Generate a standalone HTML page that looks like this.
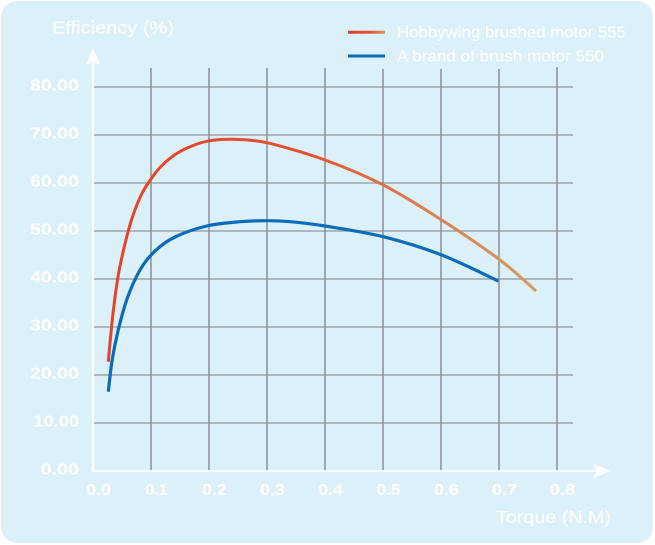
<!DOCTYPE html>
<html><head><meta charset="utf-8"><style>
html,body{margin:0;padding:0;background:#fff;}
svg{display:block;}
</style></head><body>
<svg width="655" height="545" viewBox="0 0 655 545" xmlns="http://www.w3.org/2000/svg">
<defs>
<linearGradient id="rg" gradientUnits="userSpaceOnUse" x1="108" y1="0" x2="536" y2="0">
<stop offset="0" stop-color="#e3432a"/>
<stop offset="0.45" stop-color="#e3502e"/>
<stop offset="0.7" stop-color="#dd7b4c"/>
<stop offset="1" stop-color="#d49c62"/>
</linearGradient>
<linearGradient id="lg" gradientUnits="userSpaceOnUse" x1="348" y1="0" x2="385" y2="0">
<stop offset="0" stop-color="#e0392a"/>
<stop offset="0.6" stop-color="#e2552f"/>
<stop offset="1" stop-color="#d9945e"/>
</linearGradient>
</defs>
<rect x="1" y="1" width="652" height="542" rx="16" ry="16" fill="#dbf0f9"/>

<!-- horizontal grid -->
<g stroke="#9ea6ab" stroke-width="1.6">
<line x1="93" y1="87" x2="573" y2="87"/>
<line x1="93" y1="135" x2="573" y2="135"/>
<line x1="93" y1="183" x2="573" y2="183"/>
<line x1="93" y1="231" x2="573" y2="231"/>
<line x1="93" y1="279" x2="573" y2="279"/>
<line x1="93" y1="327" x2="573" y2="327"/>
<line x1="93" y1="375" x2="573" y2="375"/>
<line x1="93" y1="423" x2="573" y2="423"/>
</g>
<!-- vertical grid -->
<g stroke="#8a9195" stroke-width="1.5">
<line x1="151" y1="68" x2="151" y2="471"/>
<line x1="209" y1="68" x2="209" y2="471"/>
<line x1="267" y1="68" x2="267" y2="471"/>
<line x1="325" y1="68" x2="325" y2="471"/>
<line x1="383" y1="69" x2="383" y2="471"/>
<line x1="441" y1="69" x2="441" y2="471"/>
<line x1="499" y1="69" x2="499" y2="471"/>
<line x1="557" y1="67" x2="557" y2="471"/>
</g>

<!-- axes -->
<g stroke="#fff" stroke-width="2">
<line x1="93" y1="472" x2="93" y2="60"/>
<line x1="92" y1="471" x2="598" y2="471"/>
</g>
<polygon points="93,48 100,65 93,61 86,65" fill="#fff"/>
<polygon points="611,471 593,464 597,471 593,478" fill="#fff"/>

<!-- curves -->
<path fill="none" stroke="url(#rg)" stroke-width="3" stroke-linejoin="round"
d="M108.3,361.7
C108.58,358.58 109.3,350.28 110,343
C110.7,335.72 111.5,326.83 112.5,318
C113.5,309.17 114.75,298.67 116,290
C117.25,281.33 118.22,274.83 120,266
C121.78,257.17 124.48,245.58 126.7,237
C128.92,228.42 130.8,221.67 133.3,214.5
C135.8,207.33 138.92,199.67 141.7,194
C144.48,188.33 146.95,184.92 150,180.5
C153.05,176.08 156.38,171.42 160,167.5
C163.62,163.58 167.37,160.17 171.7,157
C176.03,153.83 180.17,151.12 186,148.5
C191.83,145.88 198.82,142.83 206.7,141.3
C214.58,139.77 223.3,139.07 233.3,139.3
C243.3,139.53 255,140.2 266.7,142.7
C278,145.1 305.57,152.95 325,160
C344.43,167.05 363.85,175 383.3,185
C402.75,195 422.25,207.5 441.7,220
C461.15,232.5 484.28,248.17 500,260
C515.72,271.83 530,285.83 536,291"/>
<path fill="none" stroke="#0b6cba" stroke-width="3.2" stroke-linejoin="round"
d="M108.3,391.7
C108.92,386.58 110.38,371.12 112,361
C113.62,350.88 115.5,341.33 118,331
C120.5,320.67 123.33,309.17 127,299
C130.67,288.83 135.33,278 140,270
C144.67,262 149.17,256.5 155,251
C160.83,245.5 166.38,241.17 175,237
C183.62,232.83 195.87,228.55 206.7,226
C217.53,223.45 230,222.58 240,221.7
C250,220.82 258.37,220.7 266.7,220.7
C275.03,220.7 280.28,220.82 290,221.7
C299.72,222.58 309.45,223.5 325,226
C340.55,228.5 363.85,231.87 383.3,236.7
C402.75,241.53 422.53,247.62 441.7,255
C460.87,262.38 488.87,276.67 498.3,281"/>

<!-- y labels -->
<g fill="#fff" font-family="Liberation Sans, sans-serif" font-weight="bold" font-size="15.5" text-anchor="end">
<text x="79" y="90.5" textLength="49" lengthAdjust="spacingAndGlyphs">80.00</text>
<text x="79" y="138.5" textLength="49" lengthAdjust="spacingAndGlyphs">70.00</text>
<text x="79" y="186.5" textLength="49" lengthAdjust="spacingAndGlyphs">60.00</text>
<text x="79" y="234.5" textLength="49" lengthAdjust="spacingAndGlyphs">50.00</text>
<text x="79" y="282.5" textLength="49" lengthAdjust="spacingAndGlyphs">40.00</text>
<text x="79" y="330.5" textLength="49" lengthAdjust="spacingAndGlyphs">30.00</text>
<text x="79" y="378.5" textLength="49" lengthAdjust="spacingAndGlyphs">20.00</text>
<text x="79" y="426.5" textLength="45.5" lengthAdjust="spacingAndGlyphs">10.00</text>
<text x="79" y="474.5" textLength="38.3" lengthAdjust="spacingAndGlyphs">0.00</text>
</g>
<!-- x labels -->
<g fill="#fff" font-family="Liberation Sans, sans-serif" font-weight="bold" font-size="15.5" text-anchor="middle">
<text x="98.5" y="495" textLength="25" lengthAdjust="spacingAndGlyphs">0.0</text>
<text x="156.5" y="495" textLength="22" lengthAdjust="spacingAndGlyphs">0.1</text>
<text x="214.5" y="495" textLength="25" lengthAdjust="spacingAndGlyphs">0.2</text>
<text x="272.5" y="495" textLength="25" lengthAdjust="spacingAndGlyphs">0.3</text>
<text x="330.5" y="495" textLength="25" lengthAdjust="spacingAndGlyphs">0.4</text>
<text x="388.5" y="495" textLength="24" lengthAdjust="spacingAndGlyphs">0.5</text>
<text x="446.5" y="495" textLength="25" lengthAdjust="spacingAndGlyphs">0.6</text>
<text x="504.5" y="495" textLength="25" lengthAdjust="spacingAndGlyphs">0.7</text>
<text x="562.5" y="495" textLength="25.5" lengthAdjust="spacingAndGlyphs">0.8</text>
</g>

<!-- axis titles -->
<g fill="#fff" font-family="Liberation Sans, sans-serif" font-size="17.5">
<text x="52" y="33.5" textLength="122" lengthAdjust="spacingAndGlyphs">Efficiency (%)</text>
<text x="496" y="523" textLength="115" lengthAdjust="spacingAndGlyphs">Torque (N.M)</text>
</g>

<!-- legend -->
<line x1="348" y1="32.3" x2="385" y2="32.3" stroke="url(#lg)" stroke-width="3"/>
<line x1="348" y1="56" x2="385" y2="56" stroke="#0b6cba" stroke-width="3"/>
<g fill="#fff" font-family="Liberation Sans, sans-serif" font-size="15.5">
<text x="397" y="37.5" textLength="229" lengthAdjust="spacingAndGlyphs">Hobbywing brushed motor 555</text>
<text x="397" y="61.5" textLength="207" lengthAdjust="spacingAndGlyphs">A brand of brush motor 550</text>
</g>
</svg>
</body></html>
